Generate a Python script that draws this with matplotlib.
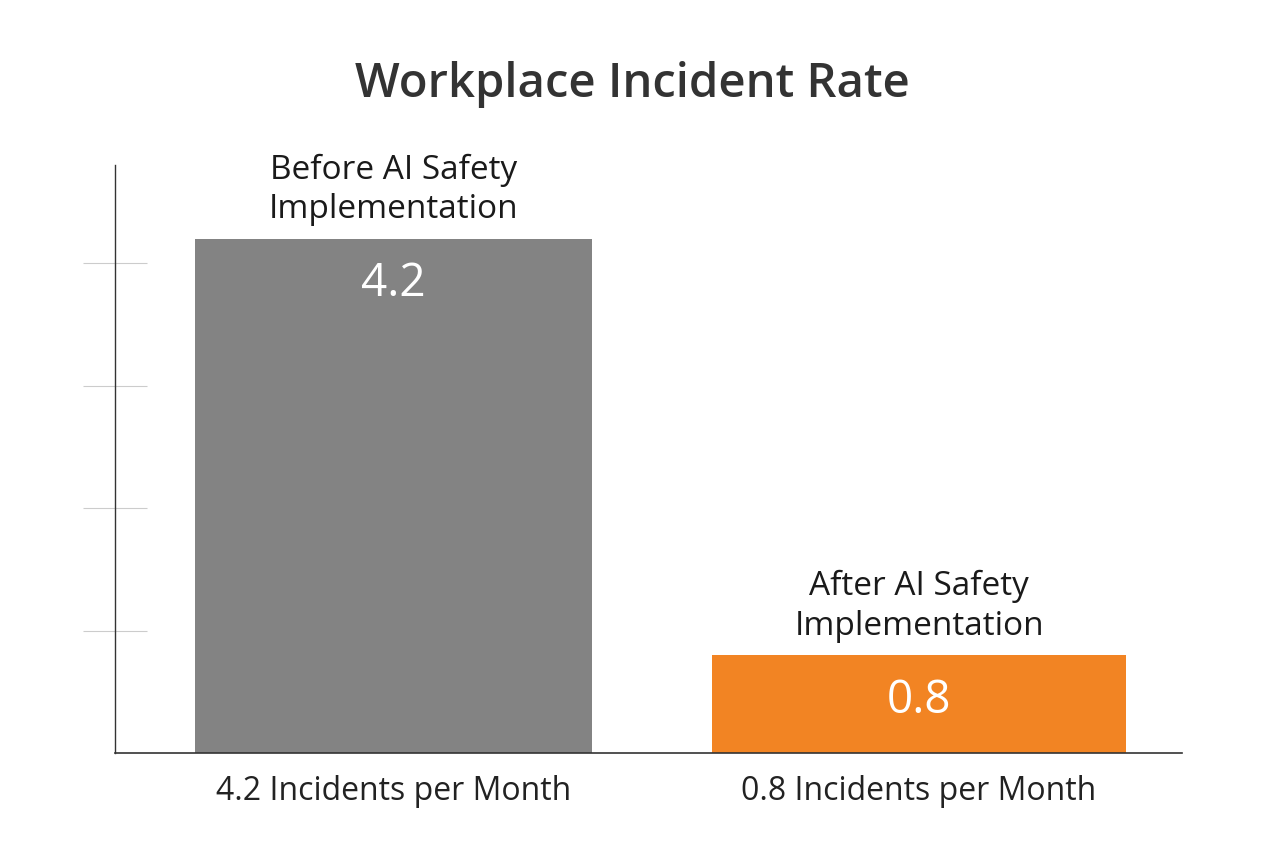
import numpy as np
import matplotlib.pyplot as plt

categories = ["Before AI Safety\nImplementation", "After AI Safety\nImplementation"]
values = [4.2, 0.8]
tick_labels = ["4.2 Incidents per Month", "0.8 Incidents per Month"]
colors = ["#838383", "#F28423"]

plt.rcParams["font.family"] = ["Open Sans", "DejaVu Sans"]

fig = plt.figure(figsize=(12.64, 8.48), dpi=100)
ax = fig.add_axes([0.091, 0.112, 0.844, 0.6934])

x = np.arange(len(values))
bars = ax.bar(x, values, width=[0.757, 0.787], color=colors)

ax.set_xlim(-0.53, 1.5)
ax.set_ylim(0, 4.8)
ax.set_yticks([1, 2, 3, 4])
ax.set_yticklabels([])
ax.tick_params(axis="y", direction="inout", length=46, width=0.8, color="#cccccc")
ax.set_xticks(x)
ax.set_xticklabels(tick_labels, fontsize=23, color="#222222")
ax.tick_params(axis="x", length=0, pad=16)

for s in ["top", "right"]:
    ax.spines[s].set_visible(False)
ax.spines["left"].set_color("#333333")
ax.spines["bottom"].set_color("#333333")
ax.spines["left"].set_linewidth(1.0)
ax.spines["bottom"].set_linewidth(1.2)

for xi, v, cat in zip(x, values, categories):
    ax.annotate(cat, (xi, v), xytext=(0, 9), textcoords="offset points",
                ha="center", va="bottom", fontsize=24, color="#1a1a1a",
                linespacing=1.25)
    ax.annotate(f"{v}", (xi, v), xytext=(0, -33), textcoords="offset points",
                ha="center", va="center", fontsize=33, color="white")

fig.text(0.5, 0.9, "Workplace Incident Rate", ha="center", va="center",
         fontsize=34, fontweight="semibold", color="#333333")

fig.savefig("out.png", dpi=100)
